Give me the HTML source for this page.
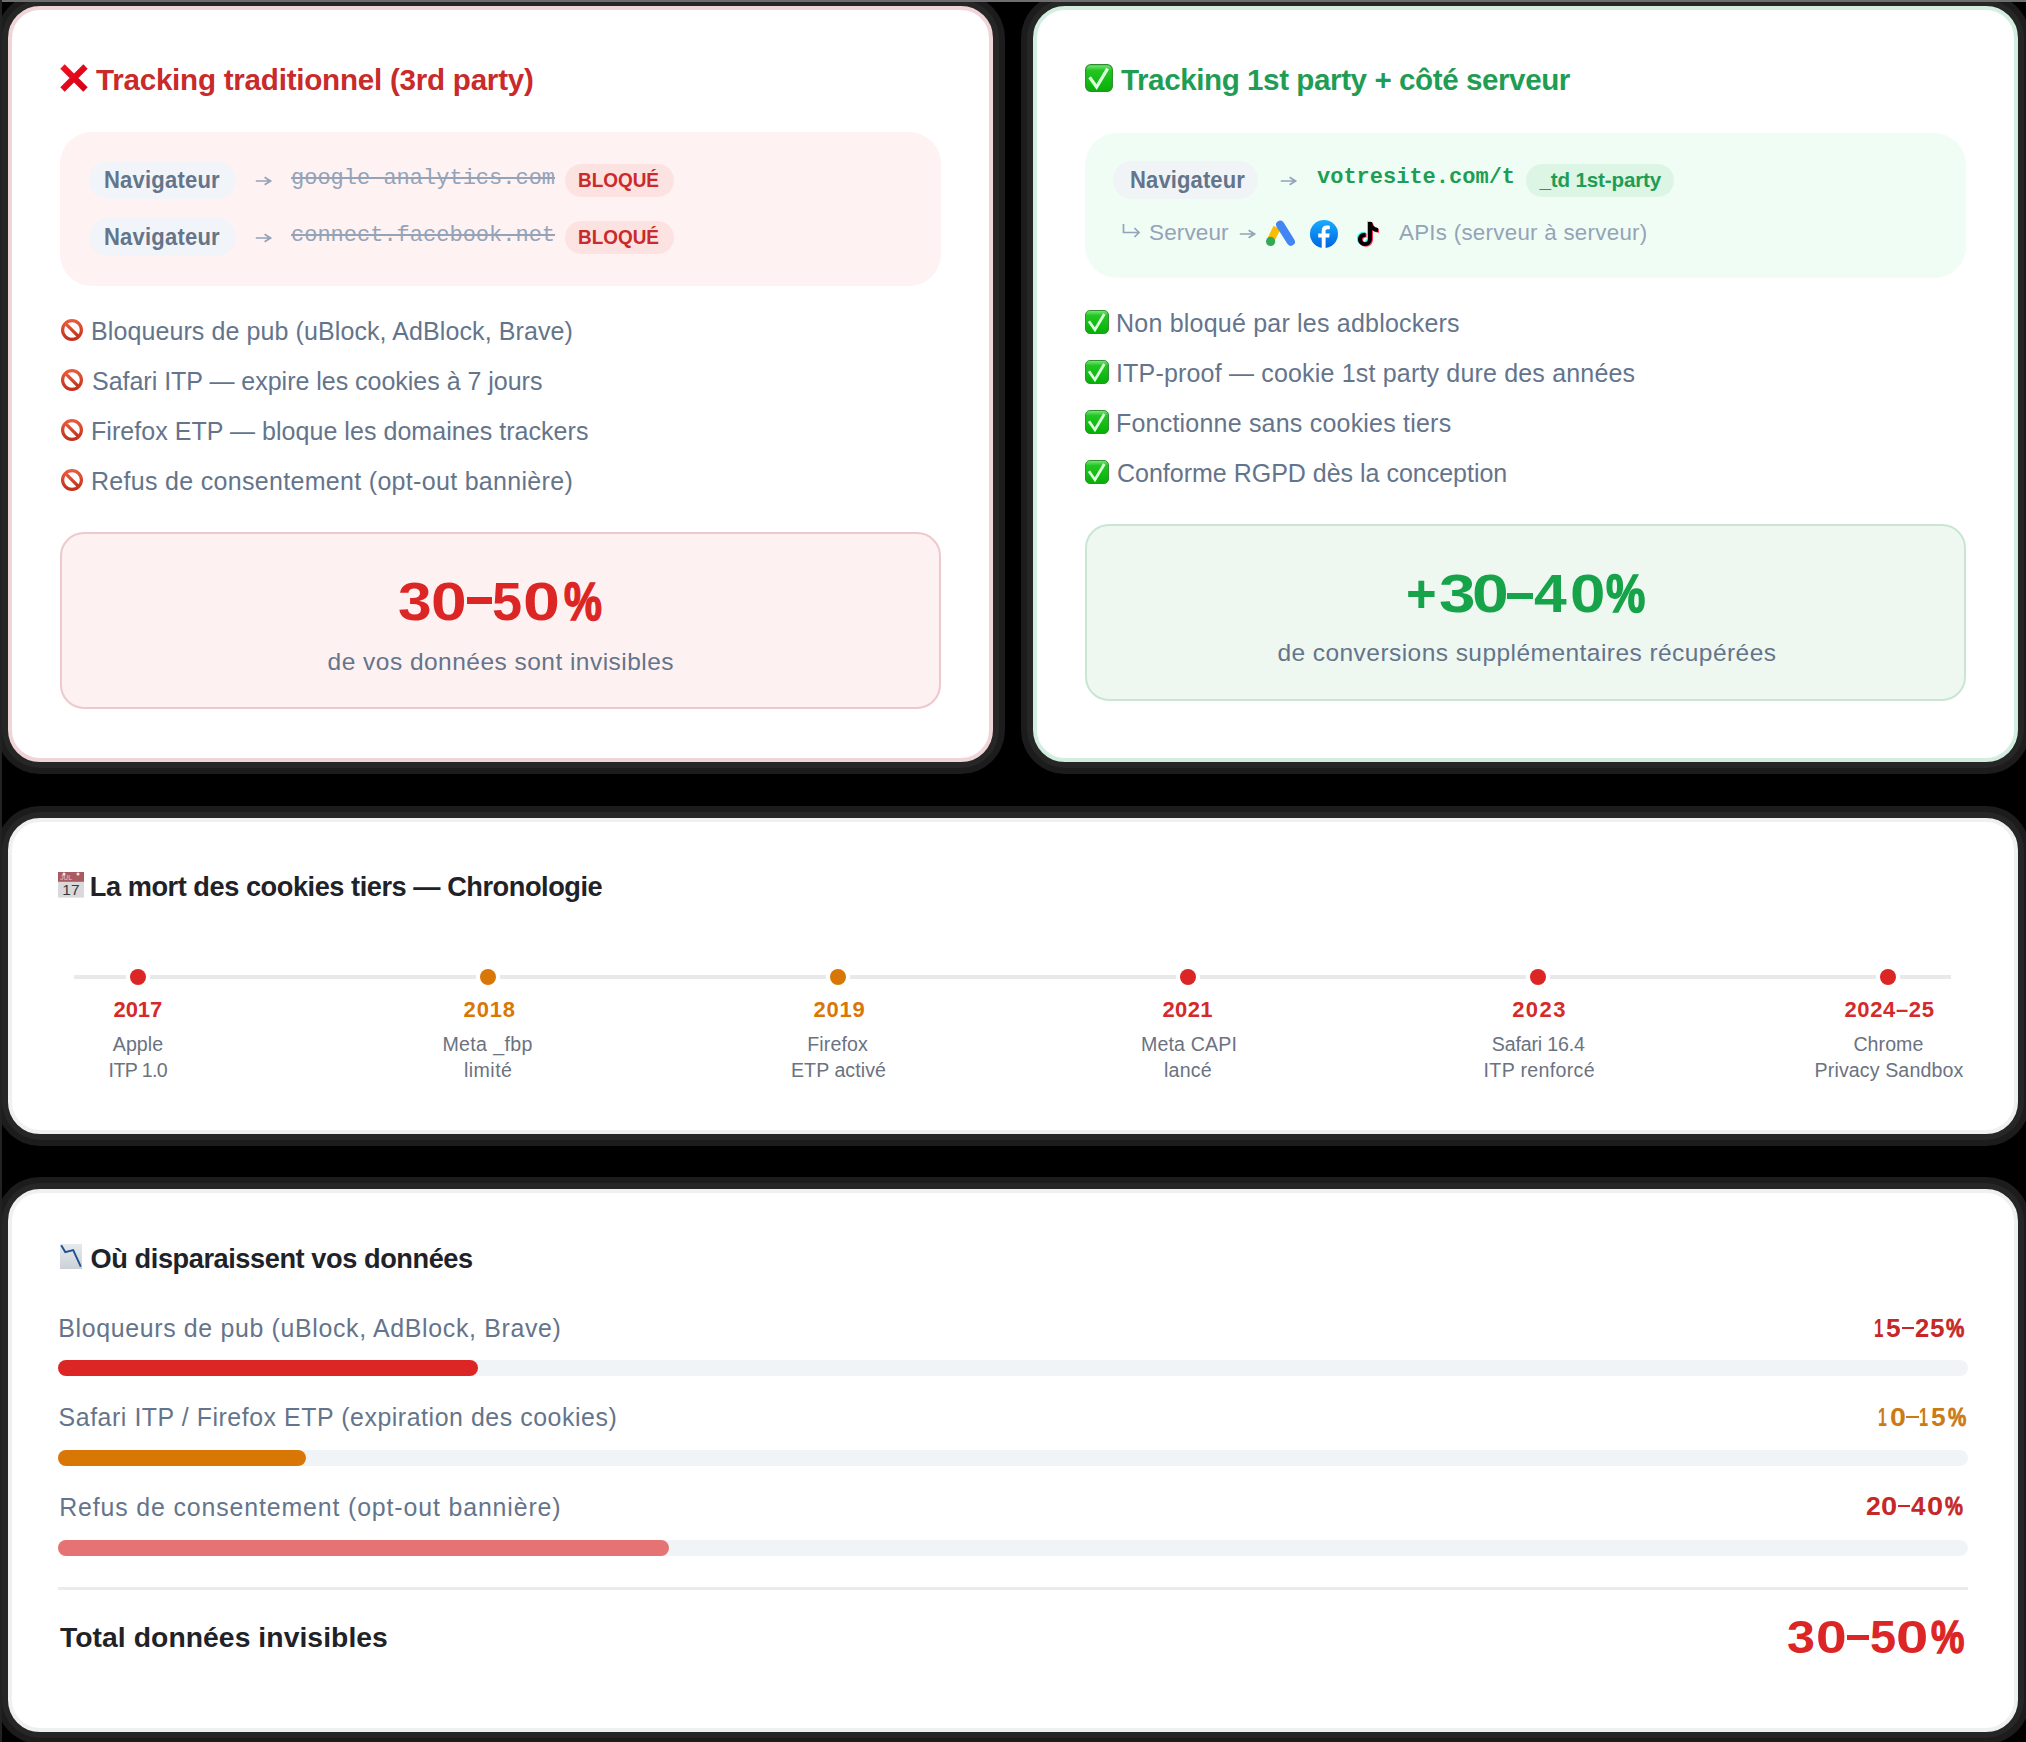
<!DOCTYPE html>
<html><head><meta charset="utf-8"><style>
html,body{margin:0;padding:0;background:#000;width:2026px;height:1742px;overflow:hidden;}
#root{position:relative;width:2026px;height:1742px;overflow:hidden;background:#000;font-family:'Liberation Sans', sans-serif;}
.a{position:absolute;white-space:nowrap;line-height:1;}
svg{position:absolute;overflow:visible;}
</style></head><body><div id="root">
<div class="a" style="left:-4px;top:-6px;width:1009px;height:780px;box-sizing:border-box;background:#1c1c1c;border-radius:44px;"></div>
<div class="a" style="left:1021px;top:-6px;width:1009px;height:780px;box-sizing:border-box;background:#1c1c1c;border-radius:44px;"></div>
<div class="a" style="left:-4px;top:806px;width:2034px;height:340px;box-sizing:border-box;background:#1c1c1c;border-radius:44px;"></div>
<div class="a" style="left:-4px;top:1177px;width:2034px;height:567px;box-sizing:border-box;background:#1c1c1c;border-radius:44px;"></div>
<div class="a" style="left:2px;top:0px;width:997px;height:768px;box-sizing:border-box;background:#262626;border-radius:38px;"></div>
<div class="a" style="left:1027px;top:0px;width:997px;height:768px;box-sizing:border-box;background:#262626;border-radius:38px;"></div>
<div class="a" style="left:2px;top:812px;width:2022px;height:328px;box-sizing:border-box;background:#262626;border-radius:38px;"></div>
<div class="a" style="left:2px;top:1183px;width:2022px;height:555px;box-sizing:border-box;background:#262626;border-radius:38px;"></div>
<div class="a" style="left:0px;top:0px;width:2026px;height:2px;box-sizing:border-box;background:#6e6e6e;"></div>
<div class="a" style="left:0px;top:0px;width:2px;height:1742px;box-sizing:border-box;background:#222;"></div>
<div class="a" style="left:8px;top:6px;width:985px;height:756px;box-sizing:border-box;background:#fff;border:4px solid #efd5d8;border-radius:32px;"></div>
<div class="a" style="left:1033px;top:6px;width:985px;height:756px;box-sizing:border-box;background:#fff;border:4px solid #d3eee1;border-radius:32px;"></div>
<div class="a" style="left:8px;top:818px;width:2010px;height:316px;box-sizing:border-box;background:#fff;border:4px solid #eef0f2;border-radius:32px;"></div>
<div class="a" style="left:8px;top:1189px;width:2010px;height:543px;box-sizing:border-box;background:#fff;border:4px solid #eef0f2;border-radius:32px;"></div>
<svg style="left:60px;top:64px" width="28" height="28" viewBox="0 0 28 28">
<defs><linearGradient id="xg" x1="0" y1="0" x2="1" y2="1"><stop offset="0" stop-color="#f01020"/><stop offset="1" stop-color="#d40018"/></linearGradient></defs>
<path d="M2.5 2.5 L25.5 25.5 M25.5 2.5 L2.5 25.5" stroke="url(#xg)" stroke-width="6.2" stroke-linecap="butt"/></svg>
<svg style="left:1085px;top:64px" width="28" height="28" viewBox="0 0 28 28">
<defs><linearGradient id="cg0" x1="0" y1="0" x2="0" y2="1"><stop offset="0" stop-color="#7ee87e"/><stop offset="0.22" stop-color="#22c622"/><stop offset="1" stop-color="#06b006"/></linearGradient></defs>
<rect x="0.6" y="0.6" width="26.8" height="26.8" rx="5.2" fill="url(#cg0)" stroke="#2f8a2f" stroke-width="1.1"/>
<path d="M4.6 13.2 L11.6 23.0 L22.6 4.6" fill="none" stroke="#dcffdc" stroke-width="3.2" stroke-linecap="butt" stroke-linejoin="miter"/></svg>
<div class="a" style="top:64.94px;font-size:29.6px;color:#c92a2a;font-weight:700;font-family:'Liberation Sans', sans-serif;left:96.00px;letter-spacing:-0.244px;">Tracking traditionnel (3rd party)</div>
<div class="a" style="left:60px;top:132px;width:881px;height:154px;box-sizing:border-box;background:#fef2f2;border-radius:32px;"></div>
<div class="a" style="left:89px;top:161px;width:147px;height:38px;box-sizing:border-box;background:#f1f4f8;border-radius:19px;"></div>
<div class="a" style="top:168.86px;font-size:23.2px;color:#64748b;font-weight:700;font-family:'Liberation Sans', sans-serif;left:104.39px;letter-spacing:0.211px;transform:scaleX(0.95);transform-origin:0 0;">Navigateur</div>
<svg style="left:255px;top:173px" width="18" height="16" viewBox="0 0 18 16"><path d="M0.8 8 H15.6 M9.6 4.2 L15.6 8 L9.6 11.8" fill="none" stroke="#94a3b8" stroke-width="1.7"/></svg>
<div class="a" style="top:168.15px;font-size:22px;color:#94a3b8;font-weight:400;font-family:'Liberation Mono', monospace;left:291px;text-decoration:line-through;">google-analytics.com</div>
<div class="a" style="left:565px;top:164px;width:109px;height:33px;box-sizing:border-box;background:#fde2e2;border-radius:17px;"></div>
<div class="a" style="top:170.03px;font-size:20.4px;color:#c92a2a;font-weight:700;font-family:'Liberation Sans', sans-serif;left:578.00px;letter-spacing:-0.022px;transform:scaleX(0.93);transform-origin:0 0;">BLOQUÉ</div>
<div class="a" style="left:89px;top:218px;width:147px;height:38px;box-sizing:border-box;background:#f1f4f8;border-radius:19px;"></div>
<div class="a" style="top:225.86px;font-size:23.2px;color:#64748b;font-weight:700;font-family:'Liberation Sans', sans-serif;left:104.39px;letter-spacing:0.211px;transform:scaleX(0.95);transform-origin:0 0;">Navigateur</div>
<svg style="left:255px;top:230px" width="18" height="16" viewBox="0 0 18 16"><path d="M0.8 8 H15.6 M9.6 4.2 L15.6 8 L9.6 11.8" fill="none" stroke="#94a3b8" stroke-width="1.7"/></svg>
<div class="a" style="top:225.15px;font-size:22px;color:#94a3b8;font-weight:400;font-family:'Liberation Mono', monospace;left:291px;text-decoration:line-through;">connect.facebook.net</div>
<div class="a" style="left:565px;top:221px;width:109px;height:33px;box-sizing:border-box;background:#fde2e2;border-radius:17px;"></div>
<div class="a" style="top:227.03px;font-size:20.4px;color:#c92a2a;font-weight:700;font-family:'Liberation Sans', sans-serif;left:578.00px;letter-spacing:-0.022px;transform:scaleX(0.93);transform-origin:0 0;">BLOQUÉ</div>
<svg style="left:61px;top:319px" width="22" height="22" viewBox="0 0 22 22">
<defs><linearGradient id="ng" x1="0" y1="0" x2="0" y2="1"><stop offset="0" stop-color="#e85a3c"/><stop offset="1" stop-color="#c2311c"/></linearGradient></defs>
<circle cx="11" cy="11" r="9.4" fill="#fff" stroke="url(#ng)" stroke-width="3.2"/>
<path d="M4.6 4.6 L17.4 17.4" stroke="url(#ng)" stroke-width="3.2"/></svg>
<div class="a" style="top:319.33px;font-size:25.0px;color:#64748b;font-weight:400;font-family:'Liberation Sans', sans-serif;left:91.00px;letter-spacing:0.095px;">Bloqueurs de pub (uBlock, AdBlock, Brave)</div>
<svg style="left:61px;top:369px" width="22" height="22" viewBox="0 0 22 22">
<defs><linearGradient id="ng" x1="0" y1="0" x2="0" y2="1"><stop offset="0" stop-color="#e85a3c"/><stop offset="1" stop-color="#c2311c"/></linearGradient></defs>
<circle cx="11" cy="11" r="9.4" fill="#fff" stroke="url(#ng)" stroke-width="3.2"/>
<path d="M4.6 4.6 L17.4 17.4" stroke="url(#ng)" stroke-width="3.2"/></svg>
<div class="a" style="top:369.33px;font-size:25.0px;color:#64748b;font-weight:400;font-family:'Liberation Sans', sans-serif;left:92.00px;letter-spacing:-0.018px;">Safari ITP — expire les cookies à 7 jours</div>
<svg style="left:61px;top:419px" width="22" height="22" viewBox="0 0 22 22">
<defs><linearGradient id="ng" x1="0" y1="0" x2="0" y2="1"><stop offset="0" stop-color="#e85a3c"/><stop offset="1" stop-color="#c2311c"/></linearGradient></defs>
<circle cx="11" cy="11" r="9.4" fill="#fff" stroke="url(#ng)" stroke-width="3.2"/>
<path d="M4.6 4.6 L17.4 17.4" stroke="url(#ng)" stroke-width="3.2"/></svg>
<div class="a" style="top:419.33px;font-size:25.0px;color:#64748b;font-weight:400;font-family:'Liberation Sans', sans-serif;left:91.00px;letter-spacing:0.044px;">Firefox ETP — bloque les domaines trackers</div>
<svg style="left:61px;top:469px" width="22" height="22" viewBox="0 0 22 22">
<defs><linearGradient id="ng" x1="0" y1="0" x2="0" y2="1"><stop offset="0" stop-color="#e85a3c"/><stop offset="1" stop-color="#c2311c"/></linearGradient></defs>
<circle cx="11" cy="11" r="9.4" fill="#fff" stroke="url(#ng)" stroke-width="3.2"/>
<path d="M4.6 4.6 L17.4 17.4" stroke="url(#ng)" stroke-width="3.2"/></svg>
<div class="a" style="top:469.33px;font-size:25.0px;color:#64748b;font-weight:400;font-family:'Liberation Sans', sans-serif;left:91.00px;letter-spacing:0.308px;">Refus de consentement (opt-out bannière)</div>
<div class="a" style="left:60px;top:532px;width:881px;height:177px;box-sizing:border-box;background:#fdf1f1;border:2px solid #ecc9cd;border-radius:24px;"></div>
<div class="a" style="top:574.48px;font-size:54px;color:#dc2626;font-weight:700;font-family:'Liberation Sans', sans-serif;left:397.71px;letter-spacing:0.000px;transform:scaleX(1.1213854325838597);transform-origin:0 0;">3</div>
<div class="a" style="top:574.48px;font-size:54px;color:#dc2626;font-weight:700;font-family:'Liberation Sans', sans-serif;left:430.86px;letter-spacing:0.000px;transform:scaleX(1.1876188303293027);transform-origin:0 0;">0</div>
<div class="a" style="left:466.5px;top:597.3px;width:25.399999999999977px;height:6.7000000000000455px;box-sizing:border-box;background:#dc2626;"></div>
<div class="a" style="top:574.48px;font-size:54px;color:#dc2626;font-weight:700;font-family:'Liberation Sans', sans-serif;left:492.34px;letter-spacing:0.000px;transform:scaleX(1.001184894413549);transform-origin:0 0;">5</div>
<div class="a" style="top:574.48px;font-size:54px;color:#dc2626;font-weight:700;font-family:'Liberation Sans', sans-serif;left:523.47px;letter-spacing:0.000px;transform:scaleX(1.23045098486577);transform-origin:0 0;">0</div>
<div class="a" style="top:574.48px;font-size:54px;color:#dc2626;font-weight:700;font-family:'Liberation Sans', sans-serif;left:563.94px;letter-spacing:0.000px;transform:scaleX(0.78901838901839);transform-origin:0 0;-webkit-text-stroke:1.62px #dc2626;">%</div>
<div class="a" style="top:650.16px;font-size:24.5px;color:#64748b;font-weight:400;font-family:'Liberation Sans', sans-serif;left:327.60px;letter-spacing:0.472px;">de vos données sont invisibles</div>
<div class="a" style="top:65.14px;font-size:29.6px;color:#1f9d55;font-weight:700;font-family:'Liberation Sans', sans-serif;left:1121.00px;letter-spacing:-0.428px;">Tracking 1st party + côté serveur</div>
<div class="a" style="left:1085px;top:133px;width:881px;height:145px;box-sizing:border-box;background:#f0fdf4;border-radius:32px;"></div>
<div class="a" style="left:1113px;top:160.5px;width:145px;height:38.5px;box-sizing:border-box;background:#f0f4f6;border-radius:19px;"></div>
<div class="a" style="top:168.86px;font-size:23.2px;color:#64748b;font-weight:700;font-family:'Liberation Sans', sans-serif;left:1129.79px;letter-spacing:0.117px;transform:scaleX(0.95);transform-origin:0 0;">Navigateur</div>
<svg style="left:1280px;top:173px" width="18" height="16" viewBox="0 0 18 16"><path d="M0.8 8 H15.6 M9.6 4.2 L15.6 8 L9.6 11.8" fill="none" stroke="#94a3b8" stroke-width="1.7"/></svg>
<div class="a" style="top:166.95px;font-size:22px;color:#1f9d55;font-weight:700;font-family:'Liberation Mono', monospace;left:1317px;">votresite.com/t</div>
<div class="a" style="left:1526px;top:164px;width:147.5px;height:33px;box-sizing:border-box;background:#dcf5e5;border-radius:17px;"></div>
<div class="a" style="top:170.16px;font-size:20.6px;color:#1f9d55;font-weight:700;font-family:'Liberation Sans', sans-serif;left:1539.39px;letter-spacing:-0.142px;">_td 1st-party</div>
<div class="a" style="top:221.95px;font-size:22.5px;color:#94a3b8;font-weight:400;font-family:'Liberation Sans', sans-serif;left:1149.00px;letter-spacing:0.133px;">Serveur</div>
<svg style="left:1122px;top:224px" width="19" height="13" viewBox="0 0 19 13"><path d="M1.5 0 V8.5 H17 M12.5 4 L17 8.5 L12.5 13" fill="none" stroke="#94a3b8" stroke-width="1.7"/></svg>
<svg style="left:1239px;top:226px" width="18" height="16" viewBox="0 0 18 16"><path d="M0.8 8 H15.6 M9.6 4.2 L15.6 8 L9.6 11.8" fill="none" stroke="#94a3b8" stroke-width="1.7"/></svg>
<svg style="left:1266px;top:221px" width="28" height="26" viewBox="0 0 28 26">
<path d="M11 6.5 L4.6 19.5" stroke="#fbbc04" stroke-width="7.6" stroke-linecap="butt"/>
<path d="M14.2 3.8 L24.8 20.6" stroke="#4285f4" stroke-width="8.2" stroke-linecap="round"/>
<circle cx="4.6" cy="20.4" r="4.6" fill="#34a853"/></svg>
<svg style="left:1310px;top:219.6px" width="28" height="28" viewBox="0 0 28 28">
<defs><linearGradient id="fbg" x1="0" y1="0" x2="0" y2="1"><stop offset="0" stop-color="#18acfe"/><stop offset="1" stop-color="#0163e0"/></linearGradient></defs>
<circle cx="14" cy="14" r="14" fill="url(#fbg)"/>
<path d="M15.6 28 V17.6 H19.2 L19.7 13.6 H15.6 V11.2 C15.6 10 16 9.3 17.6 9.3 H19.8 V5.8 C19.3 5.7 18 5.6 16.7 5.6 C13.6 5.6 11.7 7.4 11.7 10.8 V13.6 H8.2 V17.6 H11.7 V28 Z" fill="#fff"/></svg>
<svg style="left:1355px;top:219.6px" width="26" height="28" viewBox="0 0 26 28">
<g transform="translate(-1,-0.8)"><path d="M13 2 H17 C17.4 5.6 19.8 7.8 23 8 V12 C20.7 12 18.7 11.3 17 10 V18.5 C17 23 13.9 26 9.8 26 C5.9 26 3 23.2 3 19.3 C3 15.2 6.4 12.3 10.6 12.7 V16.8 C8.7 16.4 7 17.6 7 19.4 C7 21 8.3 22.2 9.9 22.2 C11.7 22.2 13 20.9 13 18.9 Z" fill="#25f4ee"/></g>
<g transform="translate(1,0.8)"><path d="M13 2 H17 C17.4 5.6 19.8 7.8 23 8 V12 C20.7 12 18.7 11.3 17 10 V18.5 C17 23 13.9 26 9.8 26 C5.9 26 3 23.2 3 19.3 C3 15.2 6.4 12.3 10.6 12.7 V16.8 C8.7 16.4 7 17.6 7 19.4 C7 21 8.3 22.2 9.9 22.2 C11.7 22.2 13 20.9 13 18.9 Z" fill="#fe2c55"/></g>
<path d="M13 2 H17 C17.4 5.6 19.8 7.8 23 8 V12 C20.7 12 18.7 11.3 17 10 V18.5 C17 23 13.9 26 9.8 26 C5.9 26 3 23.2 3 19.3 C3 15.2 6.4 12.3 10.6 12.7 V16.8 C8.7 16.4 7 17.6 7 19.4 C7 21 8.3 22.2 9.9 22.2 C11.7 22.2 13 20.9 13 18.9 Z" fill="#000"/></svg>
<div class="a" style="top:221.92px;font-size:22.3px;color:#94a3b8;font-weight:400;font-family:'Liberation Sans', sans-serif;left:1399.00px;letter-spacing:0.287px;">APIs (serveur à serveur)</div>
<svg style="left:1085px;top:310px" width="24" height="24" viewBox="0 0 28 28">
<defs><linearGradient id="cgl0" x1="0" y1="0" x2="0" y2="1"><stop offset="0" stop-color="#7ee87e"/><stop offset="0.22" stop-color="#22c622"/><stop offset="1" stop-color="#06b006"/></linearGradient></defs>
<rect x="0.6" y="0.6" width="26.8" height="26.8" rx="5.2" fill="url(#cgl0)" stroke="#2f8a2f" stroke-width="1.1"/>
<path d="M4.6 13.2 L11.6 23.0 L22.6 4.6" fill="none" stroke="#dcffdc" stroke-width="3.2" stroke-linecap="butt" stroke-linejoin="miter"/></svg>
<div class="a" style="top:311.33px;font-size:25.0px;color:#64748b;font-weight:400;font-family:'Liberation Sans', sans-serif;left:1116.00px;letter-spacing:0.211px;">Non bloqué par les adblockers</div>
<svg style="left:1085px;top:360px" width="24" height="24" viewBox="0 0 28 28">
<defs><linearGradient id="cgl1" x1="0" y1="0" x2="0" y2="1"><stop offset="0" stop-color="#7ee87e"/><stop offset="0.22" stop-color="#22c622"/><stop offset="1" stop-color="#06b006"/></linearGradient></defs>
<rect x="0.6" y="0.6" width="26.8" height="26.8" rx="5.2" fill="url(#cgl1)" stroke="#2f8a2f" stroke-width="1.1"/>
<path d="M4.6 13.2 L11.6 23.0 L22.6 4.6" fill="none" stroke="#dcffdc" stroke-width="3.2" stroke-linecap="butt" stroke-linejoin="miter"/></svg>
<div class="a" style="top:361.33px;font-size:25.0px;color:#64748b;font-weight:400;font-family:'Liberation Sans', sans-serif;left:1116.00px;letter-spacing:0.179px;">ITP-proof — cookie 1st party dure des années</div>
<svg style="left:1085px;top:410px" width="24" height="24" viewBox="0 0 28 28">
<defs><linearGradient id="cgl2" x1="0" y1="0" x2="0" y2="1"><stop offset="0" stop-color="#7ee87e"/><stop offset="0.22" stop-color="#22c622"/><stop offset="1" stop-color="#06b006"/></linearGradient></defs>
<rect x="0.6" y="0.6" width="26.8" height="26.8" rx="5.2" fill="url(#cgl2)" stroke="#2f8a2f" stroke-width="1.1"/>
<path d="M4.6 13.2 L11.6 23.0 L22.6 4.6" fill="none" stroke="#dcffdc" stroke-width="3.2" stroke-linecap="butt" stroke-linejoin="miter"/></svg>
<div class="a" style="top:411.33px;font-size:25.0px;color:#64748b;font-weight:400;font-family:'Liberation Sans', sans-serif;left:1116.00px;letter-spacing:0.207px;">Fonctionne sans cookies tiers</div>
<svg style="left:1085px;top:460px" width="24" height="24" viewBox="0 0 28 28">
<defs><linearGradient id="cgl3" x1="0" y1="0" x2="0" y2="1"><stop offset="0" stop-color="#7ee87e"/><stop offset="0.22" stop-color="#22c622"/><stop offset="1" stop-color="#06b006"/></linearGradient></defs>
<rect x="0.6" y="0.6" width="26.8" height="26.8" rx="5.2" fill="url(#cgl3)" stroke="#2f8a2f" stroke-width="1.1"/>
<path d="M4.6 13.2 L11.6 23.0 L22.6 4.6" fill="none" stroke="#dcffdc" stroke-width="3.2" stroke-linecap="butt" stroke-linejoin="miter"/></svg>
<div class="a" style="top:461.33px;font-size:25.0px;color:#64748b;font-weight:400;font-family:'Liberation Sans', sans-serif;left:1117.00px;letter-spacing:-0.007px;">Conforme RGPD dès la conception</div>
<div class="a" style="left:1085px;top:524px;width:881px;height:177px;box-sizing:border-box;background:#eef8f1;border:2px solid #c8e6d2;border-radius:24px;"></div>
<div class="a" style="top:566.08px;font-size:54px;color:#16a34a;font-weight:700;font-family:'Liberation Sans', sans-serif;left:1405.80px;letter-spacing:0.000px;transform:scaleX(0.9712286775577899);transform-origin:0 0;">+</div>
<div class="a" style="top:566.08px;font-size:54px;color:#16a34a;font-weight:700;font-family:'Liberation Sans', sans-serif;left:1438.59px;letter-spacing:0.000px;transform:scaleX(1.218249290547917);transform-origin:0 0;">3</div>
<div class="a" style="top:566.08px;font-size:54px;color:#16a34a;font-weight:700;font-family:'Liberation Sans', sans-serif;left:1472.09px;letter-spacing:0.000px;transform:scaleX(1.2226633204045882);transform-origin:0 0;">0</div>
<div class="a" style="left:1507.1px;top:592.5px;width:26.200000000000045px;height:6.7999999999999545px;box-sizing:border-box;background:#16a34a;"></div>
<div class="a" style="top:566.08px;font-size:54px;color:#16a34a;font-weight:700;font-family:'Liberation Sans', sans-serif;left:1533.61px;letter-spacing:0.000px;transform:scaleX(1.0890306897599513);transform-origin:0 0;">4</div>
<div class="a" style="top:566.08px;font-size:54px;color:#16a34a;font-weight:700;font-family:'Liberation Sans', sans-serif;left:1569.58px;letter-spacing:0.000px;transform:scaleX(1.179831165868134);transform-origin:0 0;">0</div>
<div class="a" style="top:566.08px;font-size:54px;color:#16a34a;font-weight:700;font-family:'Liberation Sans', sans-serif;left:1606.20px;letter-spacing:0.000px;transform:scaleX(0.8177501510834844);transform-origin:0 0;-webkit-text-stroke:1.62px #16a34a;">%</div>
<div class="a" style="top:641.46px;font-size:24.5px;color:#64748b;font-weight:400;font-family:'Liberation Sans', sans-serif;left:1277.39px;letter-spacing:0.447px;">de conversions supplémentaires récupérées</div>
<svg style="left:58px;top:872px" width="26" height="26" viewBox="0 0 26 26">
<rect x="0" y="0" width="26" height="25.4" fill="#dcdcde"/>
<rect x="0" y="9.8" width="26" height="15.6" fill="#d9d9db"/>
<rect x="0" y="0" width="26" height="9.8" fill="#a95b61"/>
<text x="2" y="8.3" font-family="Liberation Sans" font-size="6.5" font-weight="700" fill="#e3a7ad">JUL</text>
<circle cx="6" cy="2" r="1.5" fill="#fbe4e6"/><circle cx="20" cy="2" r="1.5" fill="#fbe4e6"/>
<text x="12.9" y="23.2" text-anchor="middle" font-family="Liberation Sans" font-size="15.5" fill="#3a3a3a">17</text></svg>
<div class="a" style="top:872.77px;font-size:27.2px;color:#1f2328;font-weight:700;font-family:'Liberation Sans', sans-serif;left:89.79px;letter-spacing:-0.458px;">La mort des cookies tiers — Chronologie</div>
<div class="a" style="left:74px;top:975px;width:1877px;height:4px;box-sizing:border-box;background:#e8e9eb;"></div>
<div class="a" style="left:126px;top:965px;width:24px;height:24px;border-radius:50%;background:#fff;"></div>
<div class="a" style="left:130px;top:969px;width:16px;height:16px;border-radius:50%;background:#dc2626;"></div>
<div class="a" style="top:998.77px;font-size:22px;color:#d42a2a;font-weight:700;font-family:'Liberation Sans', sans-serif;left:113.60px;letter-spacing:-0.133px;">2017</div>
<div class="a" style="top:1034.80px;font-size:19.6px;color:#6b7280;font-weight:400;font-family:'Liberation Sans', sans-serif;left:112.79px;letter-spacing:0.050px;">Apple</div>
<div class="a" style="top:1061.30px;font-size:19.6px;color:#6b7280;font-weight:400;font-family:'Liberation Sans', sans-serif;left:108.60px;letter-spacing:-0.633px;">ITP 1.0</div>
<div class="a" style="left:476px;top:965px;width:24px;height:24px;border-radius:50%;background:#fff;"></div>
<div class="a" style="left:480px;top:969px;width:16px;height:16px;border-radius:50%;background:#d97706;"></div>
<div class="a" style="top:998.77px;font-size:22px;color:#d97706;font-weight:700;font-family:'Liberation Sans', sans-serif;left:463.60px;letter-spacing:0.833px;">2018</div>
<div class="a" style="top:1034.80px;font-size:19.6px;color:#6b7280;font-weight:400;font-family:'Liberation Sans', sans-serif;left:442.39px;letter-spacing:0.350px;">Meta _fbp</div>
<div class="a" style="top:1061.30px;font-size:19.6px;color:#6b7280;font-weight:400;font-family:'Liberation Sans', sans-serif;left:464.00px;letter-spacing:0.440px;">limité</div>
<div class="a" style="left:826px;top:965px;width:24px;height:24px;border-radius:50%;background:#fff;"></div>
<div class="a" style="left:830px;top:969px;width:16px;height:16px;border-radius:50%;background:#d97706;"></div>
<div class="a" style="top:998.77px;font-size:22px;color:#d97706;font-weight:700;font-family:'Liberation Sans', sans-serif;left:813.39px;letter-spacing:0.833px;">2019</div>
<div class="a" style="top:1034.80px;font-size:19.6px;color:#6b7280;font-weight:400;font-family:'Liberation Sans', sans-serif;left:807.19px;letter-spacing:0.117px;">Firefox</div>
<div class="a" style="top:1061.30px;font-size:19.6px;color:#6b7280;font-weight:400;font-family:'Liberation Sans', sans-serif;left:791.00px;letter-spacing:0.056px;">ETP activé</div>
<div class="a" style="left:1176px;top:965px;width:24px;height:24px;border-radius:50%;background:#fff;"></div>
<div class="a" style="left:1180px;top:969px;width:16px;height:16px;border-radius:50%;background:#dc2626;"></div>
<div class="a" style="top:998.77px;font-size:22px;color:#d42a2a;font-weight:700;font-family:'Liberation Sans', sans-serif;left:1162.39px;letter-spacing:0.400px;">2021</div>
<div class="a" style="top:1034.80px;font-size:19.6px;color:#6b7280;font-weight:400;font-family:'Liberation Sans', sans-serif;left:1141.00px;letter-spacing:0.137px;">Meta CAPI</div>
<div class="a" style="top:1061.30px;font-size:19.6px;color:#6b7280;font-weight:400;font-family:'Liberation Sans', sans-serif;left:1164.00px;letter-spacing:0.225px;">lancé</div>
<div class="a" style="left:1526px;top:965px;width:24px;height:24px;border-radius:50%;background:#fff;"></div>
<div class="a" style="left:1530px;top:969px;width:16px;height:16px;border-radius:50%;background:#dc2626;"></div>
<div class="a" style="top:998.77px;font-size:22px;color:#d42a2a;font-weight:700;font-family:'Liberation Sans', sans-serif;left:1512.19px;letter-spacing:1.433px;">2023</div>
<div class="a" style="top:1034.80px;font-size:19.6px;color:#6b7280;font-weight:400;font-family:'Liberation Sans', sans-serif;left:1491.79px;letter-spacing:-0.160px;">Safari 16.4</div>
<div class="a" style="top:1061.30px;font-size:19.6px;color:#6b7280;font-weight:400;font-family:'Liberation Sans', sans-serif;left:1483.60px;letter-spacing:0.318px;">ITP renforcé</div>
<div class="a" style="left:1876px;top:965px;width:24px;height:24px;border-radius:50%;background:#fff;"></div>
<div class="a" style="left:1880px;top:969px;width:16px;height:16px;border-radius:50%;background:#dc2626;"></div>
<div class="a" style="top:998.77px;font-size:22px;color:#d42a2a;font-weight:700;font-family:'Liberation Sans', sans-serif;left:1844.39px;letter-spacing:0.650px;">2024–25</div>
<div class="a" style="top:1034.80px;font-size:19.6px;color:#6b7280;font-weight:400;font-family:'Liberation Sans', sans-serif;left:1853.39px;letter-spacing:0.060px;">Chrome</div>
<div class="a" style="top:1061.30px;font-size:19.6px;color:#6b7280;font-weight:400;font-family:'Liberation Sans', sans-serif;left:1814.60px;letter-spacing:0.114px;">Privacy Sandbox</div>
<svg style="left:60px;top:1244px" width="22" height="25" viewBox="0 0 22 25">
<defs><linearGradient id="chg" x1="0" y1="0" x2="0" y2="1"><stop offset="0" stop-color="#e4eaee"/><stop offset="1" stop-color="#cbd1d6"/></linearGradient></defs>
<rect x="0" y="0" width="22" height="25" fill="url(#chg)"/>
<path d="M1.2 1.3 L5.3 8.1 L13.2 6.0 L20.8 22.6" fill="none" stroke="#1f4f8e" stroke-width="1.9" stroke-linejoin="miter"/></svg>
<div class="a" style="top:1244.97px;font-size:27.2px;color:#1f2328;font-weight:700;font-family:'Liberation Sans', sans-serif;left:90.60px;letter-spacing:-0.437px;">Où disparaissent vos données</div>
<div class="a" style="top:1316.22px;font-size:24.9px;color:#64748b;font-weight:400;font-family:'Liberation Sans', sans-serif;left:58.19px;letter-spacing:0.667px;">Bloqueurs de pub (uBlock, AdBlock, Brave)</div>
<div class="a" style="left:58px;top:1360px;width:1910px;height:16px;box-sizing:border-box;background:#f1f4f7;border-radius:8px;"></div>
<div class="a" style="left:58px;top:1360px;width:420px;height:16px;box-sizing:border-box;background:#dc2626;border-radius:8px;"></div>
<div class="a" style="top:1405.42px;font-size:24.9px;color:#64748b;font-weight:400;font-family:'Liberation Sans', sans-serif;left:58.60px;letter-spacing:0.550px;">Safari ITP / Firefox ETP (expiration des cookies)</div>
<div class="a" style="left:58px;top:1450px;width:1910px;height:16px;box-sizing:border-box;background:#f1f4f7;border-radius:8px;"></div>
<div class="a" style="left:58px;top:1450px;width:248px;height:16px;box-sizing:border-box;background:#d97706;border-radius:8px;"></div>
<div class="a" style="top:1494.82px;font-size:24.9px;color:#64748b;font-weight:400;font-family:'Liberation Sans', sans-serif;left:59.19px;letter-spacing:0.864px;">Refus de consentement (opt-out bannière)</div>
<div class="a" style="left:58px;top:1539.5px;width:1910px;height:16.0px;box-sizing:border-box;background:#f1f4f7;border-radius:8px;"></div>
<div class="a" style="left:58px;top:1539.5px;width:611px;height:16.0px;box-sizing:border-box;background:#e57373;border-radius:8px;"></div>
<div class="a" style="top:1314.59px;font-size:26px;color:#c62828;font-weight:700;font-family:'Liberation Sans', sans-serif;left:1873.83px;letter-spacing:0.000px;transform:scaleX(0.6529663411090371);transform-origin:0 0;">1</div>
<div class="a" style="top:1314.59px;font-size:26px;color:#c62828;font-weight:700;font-family:'Liberation Sans', sans-serif;left:1886.19px;letter-spacing:0.000px;transform:scaleX(1.0126368234317134);transform-origin:0 0;">5</div>
<div class="a" style="left:1901.6px;top:1326.9px;width:12.300000000000182px;height:2.099999999999909px;box-sizing:border-box;background:#c62828;"></div>
<div class="a" style="top:1314.59px;font-size:26px;color:#c62828;font-weight:700;font-family:'Liberation Sans', sans-serif;left:1914.51px;letter-spacing:0.000px;transform:scaleX(0.9826181931658569);transform-origin:0 0;">2</div>
<div class="a" style="top:1314.59px;font-size:26px;color:#c62828;font-weight:700;font-family:'Liberation Sans', sans-serif;left:1930.20px;letter-spacing:0.000px;transform:scaleX(1.0049067713444553);transform-origin:0 0;">5</div>
<div class="a" style="top:1314.59px;font-size:26px;color:#c62828;font-weight:700;font-family:'Liberation Sans', sans-serif;left:1946.49px;letter-spacing:0.000px;transform:scaleX(0.7941187018110074);transform-origin:0 0;-webkit-text-stroke:0.78px #c62828;">%</div>
<div class="a" style="top:1403.69px;font-size:26px;color:#cc7a16;font-weight:700;font-family:'Liberation Sans', sans-serif;left:1877.90px;letter-spacing:0.000px;transform:scaleX(0.6116393574945403);transform-origin:0 0;">1</div>
<div class="a" style="top:1403.69px;font-size:26px;color:#cc7a16;font-weight:700;font-family:'Liberation Sans', sans-serif;left:1889.87px;letter-spacing:0.000px;transform:scaleX(1.0998578423629686);transform-origin:0 0;">0</div>
<div class="a" style="left:1906.0px;top:1416.1px;width:12.599999999999909px;height:2.1000000000001364px;box-sizing:border-box;background:#cc7a16;"></div>
<div class="a" style="top:1403.69px;font-size:26px;color:#cc7a16;font-weight:700;font-family:'Liberation Sans', sans-serif;left:1918.87px;letter-spacing:0.000px;transform:scaleX(0.6281701509403428);transform-origin:0 0;">1</div>
<div class="a" style="top:1403.69px;font-size:26px;color:#cc7a16;font-weight:700;font-family:'Liberation Sans', sans-serif;left:1931.39px;letter-spacing:0.000px;transform:scaleX(1.0126368234317134);transform-origin:0 0;">5</div>
<div class="a" style="top:1403.69px;font-size:26px;color:#cc7a16;font-weight:700;font-family:'Liberation Sans', sans-serif;left:1947.69px;letter-spacing:0.000px;transform:scaleX(0.7941187018110074);transform-origin:0 0;-webkit-text-stroke:0.78px #cc7a16;">%</div>
<div class="a" style="top:1493.39px;font-size:26px;color:#c62828;font-weight:700;font-family:'Liberation Sans', sans-serif;left:1865.58px;letter-spacing:0.000px;transform:scaleX(1.022562022156339);transform-origin:0 0;">2</div>
<div class="a" style="top:1493.39px;font-size:26px;color:#c62828;font-weight:700;font-family:'Liberation Sans', sans-serif;left:1881.15px;letter-spacing:0.000px;transform:scaleX(1.1160322223977217);transform-origin:0 0;">0</div>
<div class="a" style="left:1897.5px;top:1505.2px;width:12.200000000000045px;height:2.099999999999909px;box-sizing:border-box;background:#c62828;"></div>
<div class="a" style="top:1493.39px;font-size:26px;color:#c62828;font-weight:700;font-family:'Liberation Sans', sans-serif;left:1910.61px;letter-spacing:0.000px;transform:scaleX(0.9980786761096763);transform-origin:0 0;">4</div>
<div class="a" style="top:1493.39px;font-size:26px;color:#c62828;font-weight:700;font-family:'Liberation Sans', sans-serif;left:1926.75px;letter-spacing:0.000px;transform:scaleX(1.1160322223977217);transform-origin:0 0;">0</div>
<div class="a" style="top:1493.39px;font-size:26px;color:#c62828;font-weight:700;font-family:'Liberation Sans', sans-serif;left:1944.70px;letter-spacing:0.000px;transform:scaleX(0.7757575757575695);transform-origin:0 0;-webkit-text-stroke:0.78px #c62828;">%</div>
<div class="a" style="left:58px;top:1587px;width:1910px;height:3px;box-sizing:border-box;background:#e9ebee;"></div>
<div class="a" style="top:1622.54px;font-size:28.3px;color:#1f2328;font-weight:700;font-family:'Liberation Sans', sans-serif;left:60.00px;letter-spacing:0.057px;">Total données invisibles</div>
<div class="a" style="top:1614.68px;font-size:45.5px;color:#dc2626;font-weight:700;font-family:'Liberation Sans', sans-serif;left:1787.15px;letter-spacing:0.000px;transform:scaleX(1.1053779226667242);transform-origin:0 0;">3</div>
<div class="a" style="top:1614.68px;font-size:45.5px;color:#dc2626;font-weight:700;font-family:'Liberation Sans', sans-serif;left:1816.32px;letter-spacing:0.000px;transform:scaleX(1.2107678768869754);transform-origin:0 0;">0</div>
<div class="a" style="left:1846.8px;top:1635.0px;width:21.799999999999955px;height:5.099999999999909px;box-sizing:border-box;background:#dc2626;"></div>
<div class="a" style="top:1614.68px;font-size:45.5px;color:#dc2626;font-weight:700;font-family:'Liberation Sans', sans-serif;left:1869.55px;letter-spacing:0.000px;transform:scaleX(1.0336183933828724);transform-origin:0 0;">5</div>
<div class="a" style="top:1614.68px;font-size:45.5px;color:#dc2626;font-weight:700;font-family:'Liberation Sans', sans-serif;left:1896.40px;letter-spacing:0.000px;transform:scaleX(1.2754653970259677);transform-origin:0 0;">0</div>
<div class="a" style="top:1614.68px;font-size:45.5px;color:#dc2626;font-weight:700;font-family:'Liberation Sans', sans-serif;left:1931.46px;letter-spacing:0.000px;transform:scaleX(0.8262506724045185);transform-origin:0 0;-webkit-text-stroke:1.36px #dc2626;">%</div>
</div></body></html>
